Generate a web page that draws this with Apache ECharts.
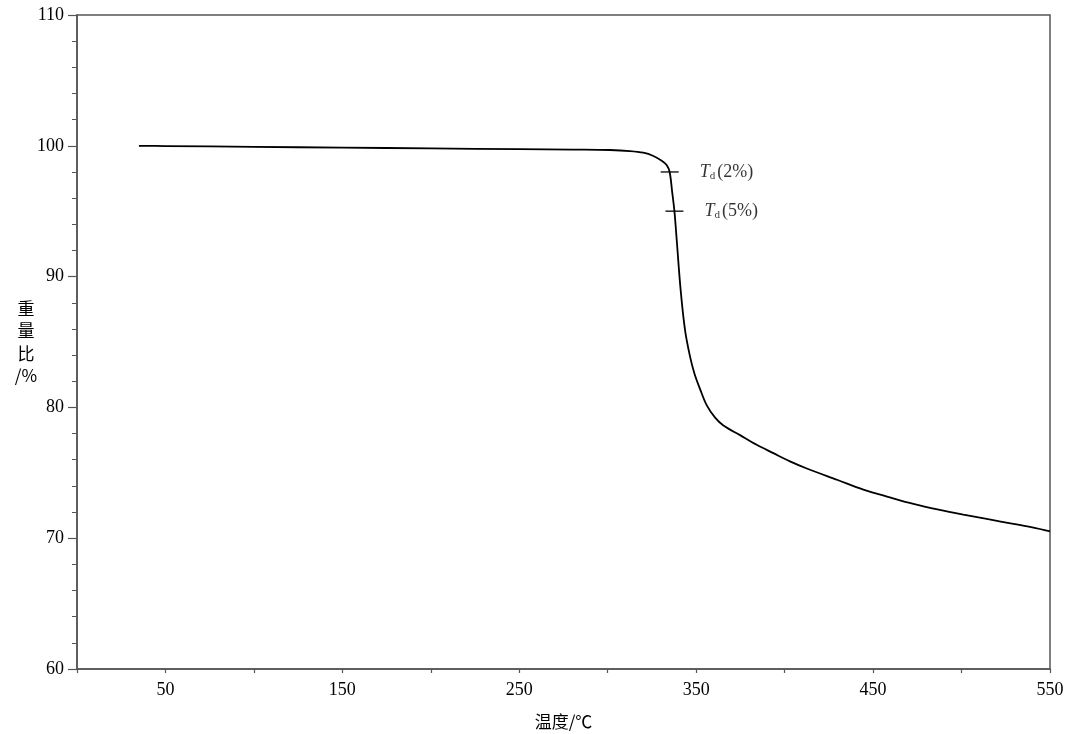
<!DOCTYPE html>
<html>
<head>
<meta charset="utf-8">
<script src="https://cdn.jsdelivr.net/npm/echarts@6/dist/echarts.min.js"></script>
<style>html,body{margin:0;padding:0;background:#fff;}#c{width:1070px;height:734px;}</style>
</head>
<body>
<div id="c"></div>
<script>
const temps = [35, 50, 100, 150, 200, 250, 280, 301.3, 312.6, 320.1, 325.8, 330.5, 333.3, 335, 336.4, 337.7, 339, 341.2, 343.7, 346.5, 349, 352.2, 356, 360.7, 365.4, 374.8, 384.2, 393.6, 403, 412.5, 430, 444.5, 460, 472.8, 487, 501, 515, 529.3, 540, 550];
const weights = [100.0, 99.98, 99.92, 99.86, 99.8, 99.74, 99.71, 99.68, 99.6, 99.47, 99.22, 98.86, 98.53, 98.0, 96.5, 95.0, 92.8, 89.0, 85.9, 83.9, 82.6, 81.4, 80.15, 79.22, 78.62, 77.88, 77.14, 76.5, 75.87, 75.33, 74.45, 73.72, 73.1, 72.62, 72.18, 71.8, 71.45, 71.1, 70.82, 70.52];
const markerTemps = [335, 337.7];
const markerWeights = [98, 95];
const markerLabels = ['(2%)', '(5%)'];
const xTickLabels = [50, 150, 250, 350, 450, 550];
const yTickLabels = [60, 70, 80, 90, 100, 110];

const serif = '"Liberation Serif","DejaVu Serif",serif';
const cjk = '"Noto Sans CJK SC","Noto Sans",sans-serif';
const axisColor = '#555';

const chart = echarts.init(document.getElementById('c'));
chart.setOption({
  animation: false,
  backgroundColor: '#fff',
  grid: { left: 77, right: 20, top: 15, bottom: 65, show: true, borderColor: axisColor, borderWidth: 1.5, containLabel: false, outerBoundsMode: 'none' },
  xAxis: {
    type: 'value', min: 0, max: 550, interval: 50,
    name: '温度/℃', nameLocation: 'middle', nameGap: 44,
    nameTextStyle: { fontFamily: cjk, fontSize: 17, color: '#000' },
    axisLine: { lineStyle: { color: axisColor, width: 1.5 } },
    axisTick: { show: true, length: 4, lineStyle: { color: axisColor, width: 1.2 } },
    axisLabel: {
      margin: 12, fontFamily: serif, fontSize: 18, color: '#000',
      formatter: v => xTickLabels.indexOf(v) >= 0 ? String(v) : ''
    },
    splitLine: { show: false }
  },
  yAxis: {
    type: 'value', min: 60, max: 110, interval: 10,
    name: '重\n量\n比\n/%', nameLocation: 'middle', nameRotate: 0, nameGap: 51, nameMoveOverlap: false,
    nameTextStyle: { fontFamily: cjk, fontSize: 17, color: '#000', lineHeight: 22.5, align: 'center', padding: [0, 0, 40, 0] },
    axisLine: { show: true, lineStyle: { color: axisColor, width: 1.5 } },
    axisTick: { show: true, length: 9, lineStyle: { color: axisColor, width: 1.2 } },
    minorTick: { show: true, splitNumber: 5, length: 5, lineStyle: { color: axisColor, width: 1 } },
    axisLabel: {
      margin: 13, fontFamily: serif, fontSize: 18, color: '#000',
      formatter: v => yTickLabels.indexOf(v) >= 0 ? String(v) : ''
    },
    splitLine: { show: false }
  },
  series: [
    {
      type: 'line',
      data: temps.map((t, i) => [t, weights[i]]),
      showSymbol: false, symbol: 'none',
      smooth: 0.35,
      lineStyle: { color: '#000', width: 1.8 },
      z: 3
    },
    {
      type: 'scatter',
      data: markerTemps.map((t, i) => [t, markerWeights[i]]),
      symbol: 'rect', symbolSize: [18, 1.6],
      itemStyle: { color: '#000' },
      z: 4,
      label: {
        show: true, position: 'right', distance: 21,
        formatter: p => '{i|T}{s|d}{n|' + markerLabels[p.dataIndex] + '}',
        rich: {
          i: { fontFamily: serif, fontStyle: 'italic', fontSize: 18, color: '#000' },
          s: { fontFamily: serif, fontSize: 11, color: '#000', verticalAlign: 'bottom', padding: [8, 2, 0, 0] },
          n: { fontFamily: serif, fontSize: 18, color: '#000' }
        }
      }
    }
  ]
});
</script>
</body>
</html>
